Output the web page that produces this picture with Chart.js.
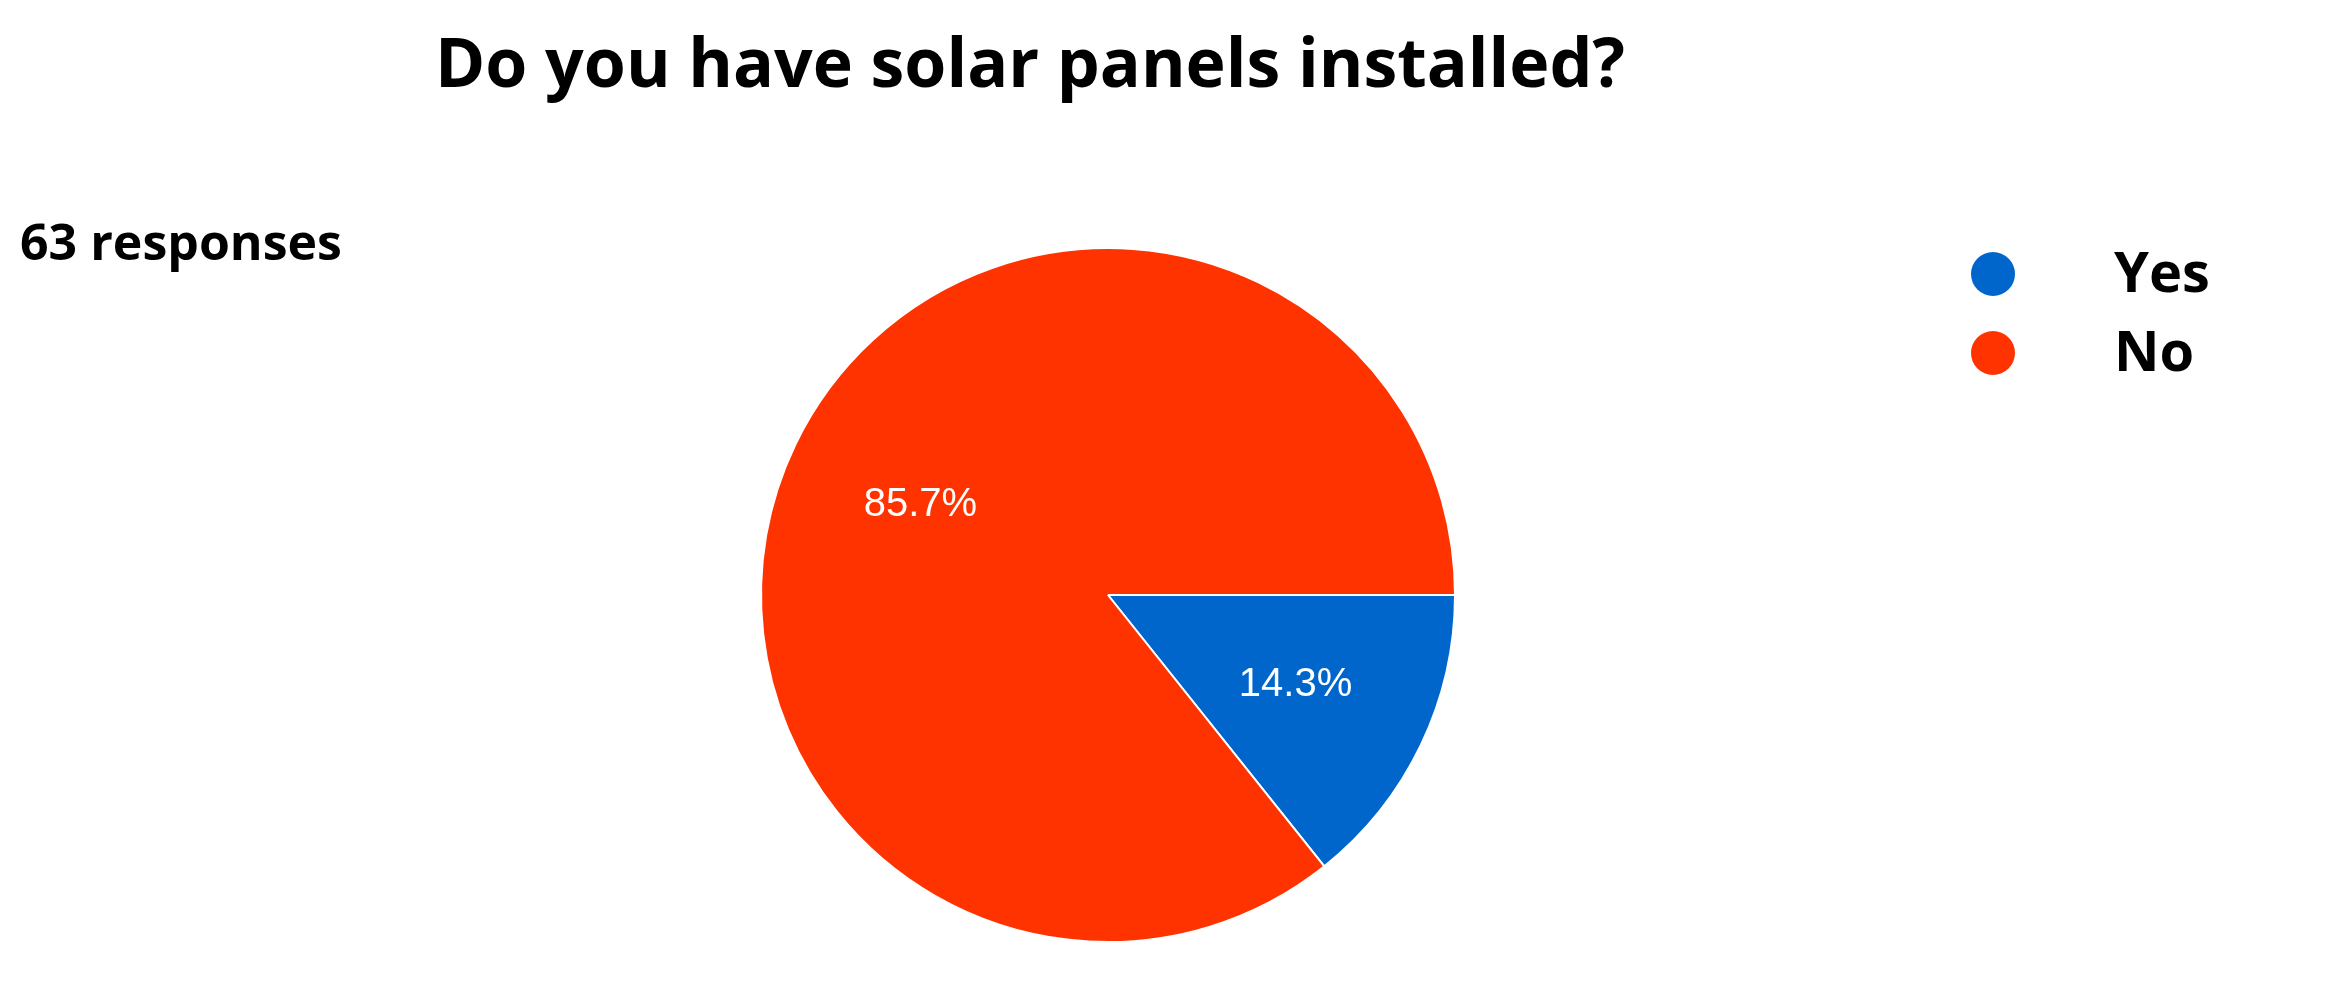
<!DOCTYPE html>
<html>
<head>
<meta charset="utf-8">
<script src="https://cdn.jsdelivr.net/npm/chart.js@4/dist/chart.umd.min.js"></script>
<style>
  html, body { margin: 0; padding: 0; background: #fff; }
  #wrap { width: 2339px; height: 982px; position: relative; }
</style>
</head>
<body>
<div id="wrap"><canvas id="chart"></canvas></div>
<script>
const title = 'Do you have solar panels installed?';
const subtitle = '63 responses';
const labels = ['Yes', 'No'];
const counts = [9, 54];
const colors = ['#0066cc', '#ff3300'];

// draws title, response count, legend and percentage labels
const textPlugin = {
    id: 'texts',
    afterDraw(chart) {
        const ctx = chart.ctx;
        ctx.save();
        ctx.fillStyle = '#000';
        ctx.textBaseline = 'middle';

        ctx.font = 'bold 68px "Open Sans", Lato, sans-serif';
        ctx.textAlign = 'center';
        ctx.fillText(title, 1030, 68);

        ctx.font = 'bold 50px "Open Sans", Lato, sans-serif';
        ctx.textAlign = 'left';
        ctx.fillText(subtitle, 20, 246);

        ctx.font = 'bold 56px "Open Sans", Lato, sans-serif';
        labels.forEach((lab, i) => {
            const y = 274 + i * 79;
            ctx.fillStyle = colors[i];
            ctx.beginPath();
            ctx.arc(1993, y, 22, 0, Math.PI * 2);
            ctx.fill();
            ctx.fillStyle = '#000';
            ctx.fillText(lab, 2114, y + 2);
        });

        const total = counts.reduce((a, b) => a + b, 0);
        ctx.font = '40px "Liberation Sans", Arial, sans-serif';
        ctx.textAlign = 'center';
        ctx.fillStyle = '#fff';
        chart.getDatasetMeta(0).data.forEach((arc, i) => {
            const p = arc.getProps(['x', 'y', 'startAngle', 'endAngle', 'outerRadius'], true);
            const mid = (p.startAngle + p.endAngle) / 2;
            const r = p.outerRadius * 0.6;
            const pct = (counts[i] / total * 100).toFixed(1) + '%';
            ctx.fillText(pct, p.x + Math.cos(mid) * r, p.y + Math.sin(mid) * r);
        });
        ctx.restore();
    }
};

const ctx = document.getElementById('chart').getContext('2d');
new Chart(ctx, {
    type: 'pie',
    data: {
        labels: labels,
        datasets: [{
            data: counts,
            backgroundColor: colors,
            borderColor: '#fff',
            borderWidth: 2
        }]
    },
    options: {
        responsive: true,
        maintainAspectRatio: false,
        animation: false,
        rotation: 90,
        layout: { padding: { top: 247, bottom: 39, left: 760, right: 883 } },
        plugins: {
            legend: { display: false },
            tooltip: { enabled: false }
        }
    },
    plugins: [textPlugin]
});
</script>
</body>
</html>
